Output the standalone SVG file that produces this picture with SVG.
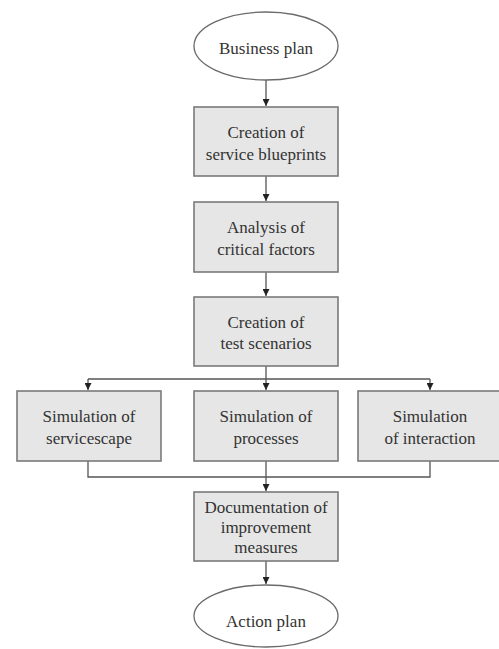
<svg xmlns="http://www.w3.org/2000/svg" width="499" height="649" viewBox="0 0 499 649">
<style>
.box{fill:#e6e6e6;stroke:#7a7a7a;stroke-width:1.6}
.ell{fill:#fff;stroke:#6a6a6a;stroke-width:1.3}
.t{font-family:"Liberation Serif","Times New Roman",serif;font-size:17px;fill:#333;text-anchor:middle}
.c{fill:none;stroke:#555;stroke-width:1.3}
</style>
<defs>
<marker id="ah" viewBox="0 0 10 10" refX="10" refY="5" markerWidth="7" markerHeight="7" markerUnits="userSpaceOnUse" orient="auto">
<path d="M0,0 L10,5 L0,10 Z" fill="#222"/>
</marker>
</defs>
<rect width="499" height="649" fill="#fff"/>
<g id="connectors">
<path class="c" d="M266,80 V106" marker-end="url(#ah)"/>
<path class="c" d="M266,176 V201" marker-end="url(#ah)"/>
<path class="c" d="M266,272 V296" marker-end="url(#ah)"/>
<path class="c" d="M266,366 V390" marker-end="url(#ah)"/>
<path class="c" d="M88,379 H430"/>
<path class="c" d="M88,379 V390" marker-end="url(#ah)"/>
<path class="c" d="M430,379 V390" marker-end="url(#ah)"/>
<path class="c" d="M88,461 V477 H430 V461"/>
<path class="c" d="M266,461 V491" marker-end="url(#ah)"/>
<path class="c" d="M266,561 V584" marker-end="url(#ah)"/>
</g>
<g id="business-plan">
<ellipse class="ell" cx="266" cy="46" rx="72" ry="34"/>
<text class="t" x="266" y="54">Business plan</text>
</g>
<g id="service-blueprints">
<rect class="box" x="194" y="107" width="144" height="69"/>
<text class="t" x="266" y="138">Creation of</text>
<text class="t" x="266" y="160">service blueprints</text>
</g>
<g id="critical-factors">
<rect class="box" x="194" y="202" width="144" height="70"/>
<text class="t" x="266" y="233">Analysis of</text>
<text class="t" x="266" y="255">critical factors</text>
</g>
<g id="test-scenarios">
<rect class="box" x="194" y="297" width="144" height="69"/>
<text class="t" x="266" y="328">Creation of</text>
<text class="t" x="266" y="349">test scenarios</text>
</g>
<g id="sim-servicescape">
<rect class="box" x="17" y="391" width="144" height="70"/>
<text class="t" x="89" y="422">Simulation of</text>
<text class="t" x="89" y="444">servicescape</text>
</g>
<g id="sim-processes">
<rect class="box" x="194" y="391" width="144" height="70"/>
<text class="t" x="266" y="422">Simulation of</text>
<text class="t" x="266" y="444">processes</text>
</g>
<g id="sim-interaction">
<rect class="box" x="358" y="391" width="144" height="70"/>
<text class="t" x="430" y="422">Simulation</text>
<text class="t" x="430" y="444">of interaction</text>
</g>
<g id="documentation">
<rect class="box" x="194" y="492" width="144" height="69"/>
<text class="t" x="266" y="513">Documentation of</text>
<text class="t" x="266" y="533">improvement</text>
<text class="t" x="266" y="553">measures</text>
</g>
<g id="action-plan">
<ellipse class="ell" cx="266" cy="616" rx="72" ry="31"/>
<text class="t" x="266" y="627">Action plan</text>
</g>
</svg>
